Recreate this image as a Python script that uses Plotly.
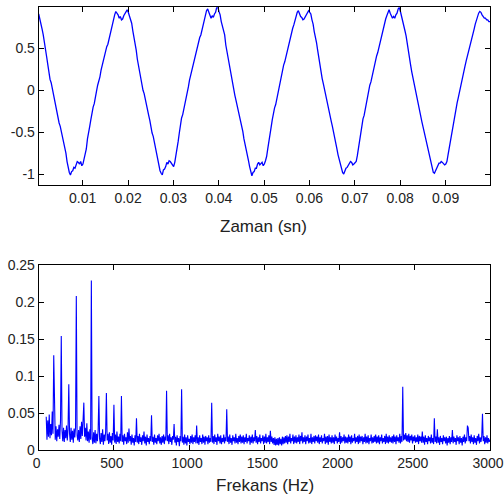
import numpy as np
import plotly.graph_objects as go

# ---- Top panel: time-domain signal (0.25 ms steps) ----
t_start = 0.0003
t_step = 0.00025
signal_cycle1 = [0.91, 0.86, 0.78, 0.73, 0.66, 0.55, 0.46, 0.40, 0.31, 0.20, 0.13, 0.09, 0.02, -0.07, -0.13, -0.17, -0.24, -0.33, -0.39, -0.43,
                 -0.49, -0.58, -0.64, -0.68, -0.75, -0.85, -0.92, -0.98, -1.01, -0.97, -0.96, -0.92, -0.93, -0.88, -0.85, -0.86, -0.88, -0.85, -0.90, -0.88,
                 -0.83, -0.78, -0.70, -0.58, -0.48, -0.43, -0.35, -0.26, -0.20, -0.16, -0.10, -0.01, 0.06, 0.10, 0.16, 0.24, 0.30, 0.33, 0.39, 0.47,
                 0.52, 0.55, 0.61, 0.69, 0.74, 0.77, 0.83, 0.90, 0.94, 0.92, 0.90, 0.86, 0.88, 0.84, 0.85, 0.89, 0.92, 0.95, 0.96, 0.93]
signal_cycle2 = [0.89, 0.83, 0.80, 0.71, 0.64, 0.57, 0.48, 0.37, 0.29, 0.24, 0.16, 0.07, 0.00, -0.04, -0.11, -0.20, -0.26, -0.30, -0.36, -0.45,
                 -0.51, -0.55, -0.62, -0.71, -0.77, -0.82, -0.89, -0.96, -0.99, -1.01, -0.95, -0.94, -0.91, -0.86, -0.88, -0.84, -0.85, -0.87, -0.88, -0.91,
                 -0.86, -0.79, -0.68, -0.61, -0.51, -0.40, -0.33, -0.29, -0.23, -0.14, -0.08, -0.03, 0.04, 0.12, 0.18, 0.21, 0.28, 0.36, 0.41, 0.44,
                 0.50, 0.58, 0.63, 0.66, 0.72, 0.80, 0.85, 0.91, 0.95, 0.97, 0.93, 0.88, 0.86, 0.89, 0.87, 0.91, 0.93, 0.99, 0.99, 0.94]
signal_cycle3 = [0.90, 0.82, 0.77, 0.72, 0.66, 0.54, 0.46, 0.41, 0.31, 0.21, 0.14, 0.10, 0.02, -0.06, -0.12, -0.18, -0.26, -0.31, -0.38, -0.42,
                 -0.49, -0.58, -0.64, -0.68, -0.75, -0.84, -0.91, -0.97, -1.02, -0.98, -0.97, -0.93, -0.93, -0.88, -0.86, -0.89, -0.87, -0.86, -0.90, -0.88,
                 -0.84, -0.79, -0.70, -0.59, -0.49, -0.44, -0.35, -0.27, -0.21, -0.17, -0.10, -0.02, 0.05, 0.09, 0.16, 0.25, 0.30, 0.34, 0.40, 0.47,
                 0.52, 0.56, 0.61, 0.69, 0.74, 0.78, 0.83, 0.89, 0.93, 0.95, 0.91, 0.88, 0.87, 0.84, 0.85, 0.88, 0.91, 0.94, 0.95, 0.93]
signal_cycle4 = [0.91, 0.84, 0.79, 0.70, 0.64, 0.57, 0.48, 0.38, 0.30, 0.23, 0.14, 0.08, 0.01, -0.05, -0.13, -0.19, -0.24, -0.32, -0.37, -0.43,
                 -0.51, -0.56, -0.62, -0.70, -0.77, -0.82, -0.90, -0.95, -0.98, -1.00, -0.96, -0.93, -0.92, -0.89, -0.88, -0.85, -0.86, -0.89, -0.88, -0.87,
                 -0.85, -0.78, -0.69, -0.60, -0.50, -0.41, -0.34, -0.30, -0.22, -0.15, -0.09, -0.03, 0.06, 0.10, 0.17, 0.24, 0.29, 0.36, 0.41, 0.45,
                 0.51, 0.58, 0.62, 0.68, 0.73, 0.80, 0.85, 0.89, 0.94, 0.96, 0.92, 0.88, 0.86, 0.88, 0.86, 0.90, 0.92, 0.97, 0.99, 0.94]
signal_cycle5 = [0.89, 0.82, 0.78, 0.71, 0.65, 0.55, 0.47, 0.39, 0.30, 0.22, 0.15, 0.07, 0.00, -0.05, -0.12, -0.19, -0.25, -0.31, -0.38, -0.44,
                 -0.50, -0.56, -0.63, -0.70, -0.76, -0.82, -0.89, -0.95, -0.98, -0.99, -0.96, -0.92, -0.91, -0.87, -0.87, -0.85, -0.86, -0.88, -0.89, -0.88,
                 -0.85, -0.77, -0.69, -0.59, -0.50, -0.42, -0.34, -0.29, -0.22, -0.15, -0.09, -0.02, 0.05, 0.11, 0.17, 0.22, 0.29, 0.35, 0.40, 0.46,
                 0.51, 0.57, 0.62, 0.68, 0.73, 0.79, 0.84, 0.89, 0.92, 0.94, 0.93, 0.90, 0.88, 0.86, 0.86, 0.84, 0.84, 0.82, 0.82]
signal = signal_cycle1 + signal_cycle2 + signal_cycle3 + signal_cycle4 + signal_cycle5
time = t_start + t_step * np.arange(len(signal))

time_ticks = [0.01, 0.02, 0.03, 0.04, 0.05, 0.06, 0.07, 0.08, 0.09]
time_tick_labels = ["0.01", "0.02", "0.03", "0.04", "0.05", "0.06", "0.07", "0.08", "0.09"]
signal_ticks = [-1, -0.5, 0, 0.5]
signal_tick_labels = ["-1", "-0.5", "0", "0.5"]

# ---- Bottom panel: spectrum (5 Hz steps from 50 Hz) ----
f_start = 50
f_step = 5
spectrum = [
    # 50-145
    0.045, 0.014, 0.040, 0.018, 0.048, 0.016, 0.035, 0.020, 0.052, 0.022, 0.128, 0.030, 0.014, 0.032, 0.012, 0.028, 0.018, 0.034, 0.015, 0.040,
    # 150-245
    0.154, 0.026, 0.012, 0.030, 0.011, 0.027, 0.016, 0.033, 0.013, 0.028, 0.089, 0.022, 0.011, 0.030, 0.014, 0.026, 0.010, 0.029, 0.017, 0.031,
    # 250-345
    0.208, 0.020, 0.013, 0.027, 0.011, 0.032, 0.015, 0.038, 0.019, 0.041, 0.064, 0.018, 0.030, 0.013, 0.036, 0.012, 0.025, 0.010, 0.028, 0.014,
    # 350-445
    0.229, 0.016, 0.008, 0.024, 0.010, 0.027, 0.009, 0.022, 0.012, 0.026, 0.073, 0.015, 0.008, 0.023, 0.011, 0.028, 0.007, 0.021, 0.012, 0.025,
    # 450-545
    0.077, 0.013, 0.022, 0.008, 0.024, 0.010, 0.019, 0.007, 0.023, 0.013, 0.061, 0.010, 0.021, 0.008, 0.025, 0.011, 0.018, 0.009, 0.022, 0.012,
    # 550-645
    0.073, 0.011, 0.020, 0.007, 0.022, 0.012, 0.017, 0.008, 0.024, 0.010, 0.029, 0.012, 0.019, 0.007, 0.021, 0.010, 0.016, 0.006, 0.020, 0.011,
    # 650-745
    0.043, 0.010, 0.019, 0.008, 0.022, 0.011, 0.017, 0.007, 0.020, 0.012, 0.025, 0.009, 0.018, 0.006, 0.021, 0.011, 0.016, 0.008, 0.019, 0.012,
    # 750-845
    0.047, 0.011, 0.018, 0.007, 0.021, 0.010, 0.016, 0.008, 0.020, 0.012, 0.022, 0.009, 0.017, 0.007, 0.019, 0.010, 0.021, 0.008, 0.018, 0.013,
    # 850-945
    0.080, 0.012, 0.020, 0.008, 0.022, 0.011, 0.017, 0.007, 0.019, 0.014, 0.035, 0.010, 0.018, 0.006, 0.020, 0.011, 0.016, 0.005, 0.019, 0.012,
    # 950-1045
    0.082, 0.010, 0.018, 0.007, 0.021, 0.009, 0.017, 0.006, 0.020, 0.011, 0.015, 0.008, 0.019, 0.010, 0.021, 0.008, 0.017, 0.011, 0.020, 0.009,
    # 1050-1145
    0.033, 0.009, 0.017, 0.007, 0.020, 0.011, 0.016, 0.008, 0.021, 0.010, 0.018, 0.007, 0.019, 0.012, 0.017, 0.008, 0.020, 0.010, 0.016, 0.011,
    # 1150-1245
    0.064, 0.010, 0.019, 0.008, 0.021, 0.011, 0.017, 0.007, 0.022, 0.012, 0.018, 0.009, 0.020, 0.008, 0.016, 0.011, 0.021, 0.009, 0.017, 0.012,
    # 1250-1345
    0.055, 0.011, 0.018, 0.008, 0.021, 0.010, 0.016, 0.007, 0.020, 0.012, 0.017, 0.009, 0.022, 0.010, 0.016, 0.008, 0.019, 0.011, 0.021, 0.009,
    # 1350-1445
    0.018, 0.010, 0.020, 0.008, 0.017, 0.011, 0.022, 0.009, 0.016, 0.012, 0.020, 0.007, 0.018, 0.010, 0.021, 0.009, 0.017, 0.012, 0.027, 0.010,
    # 1450-1545
    0.019, 0.008, 0.017, 0.011, 0.021, 0.009, 0.016, 0.012, 0.020, 0.008, 0.018, 0.010, 0.022, 0.009, 0.017, 0.011, 0.020, 0.008, 0.026, 0.011,
    # 1550-1645
    0.018, 0.009, 0.016, 0.007, 0.017, 0.006, 0.015, 0.007, 0.016, 0.006, 0.017, 0.008, 0.015, 0.006, 0.018, 0.008, 0.017, 0.009, 0.019, 0.010,
    # 1650-1745
    0.020, 0.008, 0.018, 0.011, 0.022, 0.009, 0.016, 0.012, 0.021, 0.008, 0.018, 0.010, 0.020, 0.009, 0.017, 0.011, 0.021, 0.008, 0.019, 0.012,
    # 1750-1845
    0.024, 0.009, 0.017, 0.011, 0.020, 0.008, 0.018, 0.012, 0.021, 0.009, 0.016, 0.010, 0.022, 0.008, 0.017, 0.011, 0.019, 0.009, 0.020, 0.012,
    # 1850-1945
    0.018, 0.010, 0.021, 0.008, 0.017, 0.011, 0.020, 0.009, 0.016, 0.012, 0.022, 0.008, 0.018, 0.010, 0.019, 0.007, 0.021, 0.011, 0.017, 0.009,
    # 1950-2045
    0.020, 0.010, 0.017, 0.008, 0.021, 0.012, 0.018, 0.009, 0.016, 0.011, 0.024, 0.008, 0.019, 0.010, 0.017, 0.012, 0.021, 0.009, 0.018, 0.010,
    # 2050-2145
    0.017, 0.009, 0.021, 0.011, 0.018, 0.008, 0.020, 0.010, 0.016, 0.012, 0.022, 0.009, 0.017, 0.011, 0.019, 0.008, 0.021, 0.010, 0.018, 0.012,
    # 2150-2245
    0.019, 0.008, 0.017, 0.011, 0.022, 0.009, 0.018, 0.010, 0.020, 0.008, 0.016, 0.012, 0.021, 0.009, 0.017, 0.010, 0.019, 0.011, 0.021, 0.009,
    # 2250-2345
    0.018, 0.010, 0.020, 0.008, 0.017, 0.012, 0.021, 0.009, 0.016, 0.011, 0.019, 0.008, 0.022, 0.010, 0.018, 0.009, 0.020, 0.011, 0.017, 0.010,
    # 2350-2445
    0.019, 0.009, 0.021, 0.011, 0.018, 0.008, 0.020, 0.012, 0.017, 0.010, 0.022, 0.009, 0.019, 0.011, 0.0855, 0.013, 0.021, 0.014, 0.023, 0.012,
    # 2450-2545
    0.020, 0.011, 0.022, 0.010, 0.019, 0.013, 0.021, 0.009, 0.018, 0.012, 0.020, 0.010, 0.017, 0.011, 0.021, 0.008, 0.019, 0.012, 0.018, 0.010,
    # 2550-2645
    0.025, 0.010, 0.018, 0.007, 0.020, 0.011, 0.016, 0.008, 0.019, 0.012, 0.017, 0.009, 0.021, 0.010, 0.016, 0.008, 0.043, 0.011, 0.018, 0.009,
    # 2650-2745
    0.028, 0.010, 0.017, 0.007, 0.019, 0.011, 0.016, 0.008, 0.020, 0.012, 0.017, 0.009, 0.018, 0.006, 0.016, 0.010, 0.019, 0.008, 0.017, 0.011,
    # 2750-2845
    0.027, 0.009, 0.018, 0.011, 0.016, 0.007, 0.020, 0.012, 0.017, 0.008, 0.019, 0.010, 0.016, 0.006, 0.018, 0.011, 0.021, 0.009, 0.017, 0.012,
    # 2850-2945
    0.033, 0.030, 0.012, 0.019, 0.009, 0.021, 0.011, 0.017, 0.008, 0.020, 0.010, 0.016, 0.007, 0.019, 0.012, 0.022, 0.009, 0.017, 0.011, 0.018,
    # 2950-3000
    0.049, 0.012, 0.019, 0.008, 0.017, 0.010, 0.020, 0.009, 0.016, 0.011, 0.014,
]
freq = f_start + f_step * np.arange(len(spectrum))

freq_ticks = [0, 500, 1000, 1500, 2000, 2500, 3000]
freq_tick_labels = ["0", "500", "1000", "1500", "2000", "2500", "3000"]
amp_ticks = [0, 0.05, 0.1, 0.15, 0.2, 0.25]
amp_tick_labels = ["0", "0.05", "0.1", "0.15", "0.2", "0.25"]

x_title_top = "Zaman (sn)"
x_title_bottom = "Frekans (Hz)"

# ---- Figure ----
W, H = 504, 502
FONT = "Liberation Sans, Arial, sans-serif"
LINE_BLUE = "#0000ff"

fig = go.Figure()
fig.add_trace(go.Scatter(x=time, y=signal, mode="lines",
                         line=dict(color=LINE_BLUE, width=1.3),
                         xaxis="x", yaxis="y", showlegend=False, hoverinfo="skip"))
fig.add_trace(go.Scatter(x=freq, y=spectrum, mode="lines",
                         line=dict(color=LINE_BLUE, width=1.1),
                         xaxis="x2", yaxis="y2", showlegend=False, hoverinfo="skip"))

x_dom = [38.7 / W, 490 / W]
top_dom = [1 - 185 / H, 1 - 7.3 / H]
bot_dom = [1 - 450 / H, 1 - 265 / H]

axis_common = dict(showline=True, linecolor="black", linewidth=1, mirror="ticks",
                   ticks="inside", ticklen=5, tickwidth=1, tickcolor="black",
                   showgrid=False, zeroline=False, automargin=False,
                   ticklabeloverflow="allow",
                   tickfont=dict(family=FONT, size=14, color="#222222"))

fig.update_layout(
    width=W, height=H,
    margin=dict(l=0, r=0, t=0, b=0),
    paper_bgcolor="white", plot_bgcolor="white",
    xaxis=dict(domain=x_dom, anchor="y", range=[0.0003, 0.0998],
               tickvals=time_ticks, ticktext=time_tick_labels, **axis_common),
    yaxis=dict(domain=top_dom, anchor="x", range=[-1.13, 0.99],
               tickvals=signal_ticks, ticktext=signal_tick_labels, **axis_common),
    xaxis2=dict(domain=x_dom, anchor="y2", range=[0, 3000], ticklabelshift=-2,
                tickvals=freq_ticks, ticktext=freq_tick_labels, **axis_common),
    yaxis2=dict(domain=bot_dom, anchor="x2", range=[0, 0.25],
                tickvals=amp_ticks, ticktext=amp_tick_labels, **axis_common),
    annotations=[
        dict(text=x_title_top, x=263 / W, y=1 - 226 / H, xref="paper", yref="paper",
             xanchor="center", yanchor="middle", showarrow=False,
             font=dict(family=FONT, size=17, color="#222222")),
        dict(text=x_title_bottom, x=265 / W, y=1 - 485 / H, xref="paper", yref="paper",
             xanchor="center", yanchor="middle", showarrow=False,
             font=dict(family=FONT, size=17, color="#222222")),
    ],
)

fig.write_html("out.html", config={"displayModeBar": False},
               post_script="document.body.style.margin='0';document.body.style.overflow='hidden';")
